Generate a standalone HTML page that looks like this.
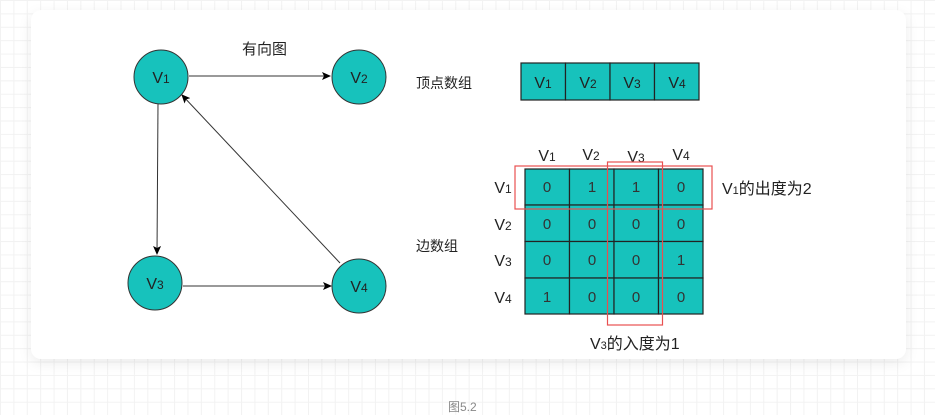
<!DOCTYPE html>
<html><head><meta charset="utf-8"><style>
html,body{margin:0;padding:0}
body{width:935px;height:415px;position:relative;overflow:hidden;background-color:#fff;
background-image:linear-gradient(#f2f2f2 1px,transparent 1px),linear-gradient(90deg,#f2f2f2 1px,transparent 1px);
background-size:13.4px 13.4px;font-family:"Liberation Sans","Noto Sans CJK SC",sans-serif}
.card{position:absolute;left:31px;top:10px;width:875px;height:349px;background:#fff;border-radius:10px;box-shadow:0 4px 14px rgba(0,0,0,0.08)}
.t{position:absolute;color:#222;white-space:nowrap}
.t small{font-size:11px}
.cap{position:absolute;left:448px;top:398px;font-size:12px;color:#888}
</style></head><body>
<div class="card"></div>
<svg width="935" height="415" style="position:absolute;left:0;top:0">
<defs><marker id="a" markerWidth="10" markerHeight="10" refX="8" refY="4" orient="auto" markerUnits="userSpaceOnUse"><path d="M0,0 L9,4 L0,8 L2,4z" fill="#000"/></marker></defs>
<g stroke="#333" stroke-width="1" fill="none">
<line x1="189" y1="76" x2="330" y2="76" marker-end="url(#a)"/>
<line x1="158" y1="103" x2="157" y2="254" marker-end="url(#a)"/>
<line x1="183" y1="286" x2="331" y2="286" marker-end="url(#a)"/>
<line x1="340" y1="263" x2="182" y2="95" marker-end="url(#a)"/>
</g>
<g fill="#17c2bc" stroke="#333" stroke-width="1">
<circle cx="161" cy="77" r="27"/><circle cx="359" cy="77" r="27"/>
<circle cx="155" cy="283" r="27"/><circle cx="359" cy="286" r="27"/>
</g>
<g font-family="Liberation Sans" font-size="16" fill="#222" text-anchor="middle">
<text x="161" y="83">V<tspan font-size="12">1</tspan></text><text x="359" y="83">V<tspan font-size="12">2</tspan></text>
<text x="155" y="289">V<tspan font-size="12">3</tspan></text><text x="359" y="292">V<tspan font-size="12">4</tspan></text>
</g>
<g fill="#17c2bc" stroke="#222" stroke-width="1.2">
<rect x="521" y="63" width="44.5" height="37"/><rect x="565.5" y="63" width="44.5" height="37"/>
<rect x="610" y="63" width="44.5" height="37"/><rect x="654.5" y="63" width="44.5" height="37"/>
</g>
<g font-family="Liberation Sans" font-size="16" fill="#222" text-anchor="middle">
<text x="543" y="88">V<tspan font-size="12">1</tspan></text><text x="588" y="88">V<tspan font-size="12">2</tspan></text><text x="632" y="88">V<tspan font-size="12">3</tspan></text><text x="677" y="88">V<tspan font-size="12">4</tspan></text>
</g>
<g fill="#17c2bc" stroke="#222" stroke-width="1.2">
<rect x="525" y="169" width="44.5" height="36"/><rect x="569.5" y="169" width="44.5" height="36"/><rect x="614" y="169" width="44.5" height="36"/><rect x="658.5" y="169" width="44.5" height="36"/>
<rect x="525" y="205" width="44.5" height="36.5"/><rect x="569.5" y="205" width="44.5" height="36.5"/><rect x="614" y="205" width="44.5" height="36.5"/><rect x="658.5" y="205" width="44.5" height="36.5"/>
<rect x="525" y="241.5" width="44.5" height="36.5"/><rect x="569.5" y="241.5" width="44.5" height="36.5"/><rect x="614" y="241.5" width="44.5" height="36.5"/><rect x="658.5" y="241.5" width="44.5" height="36.5"/>
<rect x="525" y="278" width="44.5" height="36"/><rect x="569.5" y="278" width="44.5" height="36"/><rect x="614" y="278" width="44.5" height="36"/><rect x="658.5" y="278" width="44.5" height="36"/>
</g>
<g font-family="Liberation Sans" font-size="15" fill="#333" text-anchor="middle">
<text x="547" y="192">0</text><text x="592" y="192">1</text><text x="636" y="192">1</text><text x="681" y="192">0</text>
<text x="547" y="229">0</text><text x="592" y="229">0</text><text x="636" y="229">0</text><text x="681" y="229">0</text>
<text x="547" y="265">0</text><text x="592" y="265">0</text><text x="636" y="265">0</text><text x="681" y="265">1</text>
<text x="547" y="302">1</text><text x="592" y="302">0</text><text x="636" y="302">0</text><text x="681" y="302">0</text>
</g>
<g font-family="Liberation Sans" font-size="16" fill="#222" text-anchor="middle">
<text x="547" y="161">V<tspan font-size="12">1</tspan></text><text x="591" y="160">V<tspan font-size="12">2</tspan></text><text x="636" y="162">V<tspan font-size="12">3</tspan></text><text x="681" y="160">V<tspan font-size="12">4</tspan></text>
<text x="503" y="193">V<tspan font-size="12">1</tspan></text><text x="503" y="230">V<tspan font-size="12">2</tspan></text><text x="503" y="266">V<tspan font-size="12">3</tspan></text><text x="503" y="303">V<tspan font-size="12">4</tspan></text>
</g>
<g fill="none" stroke="#e85050" stroke-width="1.2">
<rect x="515" y="166" width="197" height="43"/>
<rect x="607.5" y="162" width="55" height="163"/>
</g>
</svg>
<div class="t" style="left:242px;top:38px;font-size:15px">有向图</div>
<div class="t" style="left:416px;top:73px;font-size:14px">顶点数组</div>
<div class="t" style="left:416px;top:236px;font-size:14px">边数组</div>
<div class="t" style="left:722px;top:175px;font-size:16px">V<small>1</small>的出度为2</div>
<div class="t" style="left:590px;top:330px;font-size:16px">V<small>3</small>的入度为1</div>
<div class="cap">图5.2</div>
</body></html>
